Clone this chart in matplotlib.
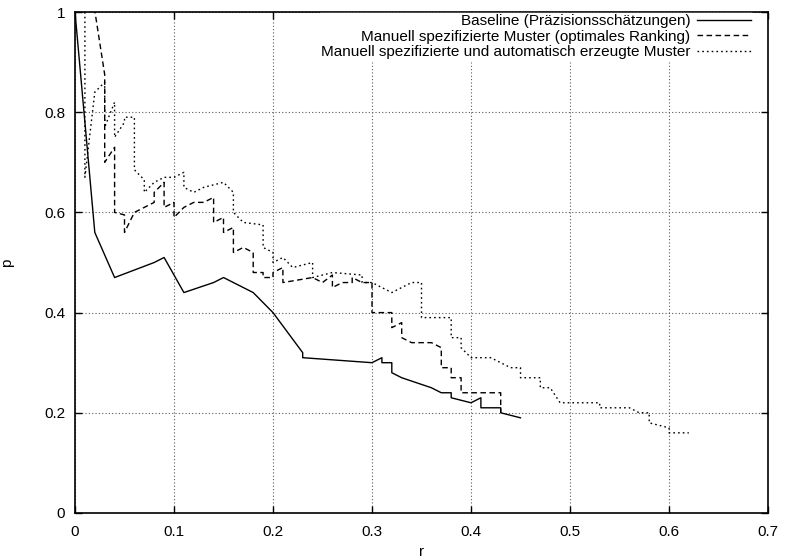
import matplotlib
matplotlib.use('Agg')
import matplotlib.pyplot as plt

plt.rcParams['font.family'] = ['Liberation Sans', 'DejaVu Sans']
plt.rcParams['font.size'] = 11

# recall r / precision p
base_r = [0, 0.02, 0.04, 0.08, 0.09, 0.11, 0.14, 0.15, 0.18, 0.20, 0.23, 0.23,
          0.30, 0.31, 0.31, 0.32, 0.32, 0.33, 0.36, 0.37, 0.38, 0.38, 0.40,
          0.41, 0.41, 0.43, 0.43, 0.45]
base_p = [1.0, 0.56, 0.47, 0.50, 0.51, 0.44, 0.46, 0.47, 0.44, 0.40, 0.32, 0.31,
          0.30, 0.31, 0.30, 0.30, 0.28, 0.27, 0.25, 0.24, 0.24, 0.23, 0.22,
          0.23, 0.21, 0.21, 0.20, 0.19]

man_r = [0.01, 0.03, 0.03, 0.04, 0.04, 0.05, 0.05, 0.06, 0.08, 0.08, 0.09, 0.09,
         0.10, 0.10, 0.11, 0.12, 0.13, 0.14, 0.14, 0.15, 0.15, 0.16, 0.16, 0.17,
         0.18, 0.18, 0.19, 0.19, 0.20, 0.20, 0.21, 0.21, 0.24, 0.25, 0.26, 0.26,
         0.27, 0.28, 0.28, 0.29, 0.30, 0.30, 0.32, 0.32, 0.33, 0.33, 0.34, 0.36,
         0.37, 0.37, 0.38, 0.38, 0.39, 0.39, 0.43, 0.43]
man_p = [1.13, 0.875, 0.70, 0.73, 0.60, 0.595, 0.56, 0.60, 0.62, 0.64, 0.66, 0.61,
         0.62, 0.59, 0.61, 0.62, 0.62, 0.63, 0.58, 0.59, 0.56, 0.57, 0.52, 0.53,
         0.52, 0.48, 0.48, 0.47, 0.47, 0.48, 0.49, 0.46, 0.47, 0.46, 0.475, 0.45,
         0.46, 0.46, 0.47, 0.46, 0.46, 0.40, 0.40, 0.37, 0.38, 0.35, 0.34, 0.34,
         0.33, 0.29, 0.29, 0.27, 0.27, 0.24, 0.24, 0.20]

auto_r = [0.01, 0.01, 0.02, 0.03, 0.03, 0.04, 0.04, 0.05, 0.05, 0.06, 0.06, 0.07,
          0.07, 0.08, 0.09, 0.10, 0.11, 0.11, 0.12, 0.13, 0.14, 0.15, 0.16, 0.16,
          0.17, 0.19, 0.19, 0.20, 0.20, 0.21, 0.22, 0.24, 0.24, 0.26, 0.29, 0.29,
          0.30, 0.32, 0.34, 0.35, 0.35, 0.38, 0.38, 0.39, 0.39, 0.40, 0.42, 0.44,
          0.45, 0.45, 0.47, 0.47, 0.48, 0.49, 0.53, 0.53, 0.56, 0.57, 0.58, 0.58,
          0.60, 0.60, 0.62]
auto_p = [1.0, 0.67, 0.84, 0.86, 0.77, 0.82, 0.75, 0.78, 0.79, 0.79, 0.685, 0.665,
          0.64, 0.66, 0.67, 0.67, 0.68, 0.65, 0.64, 0.65, 0.655, 0.66, 0.64, 0.60,
          0.58, 0.575, 0.53, 0.52, 0.50, 0.51, 0.49, 0.50, 0.47, 0.48, 0.475, 0.46,
          0.46, 0.44, 0.46, 0.46, 0.39, 0.39, 0.35, 0.35, 0.33, 0.31, 0.31, 0.29,
          0.29, 0.27, 0.27, 0.25, 0.25, 0.22, 0.22, 0.21, 0.21, 0.20, 0.20, 0.18,
          0.17, 0.16, 0.16]

labels = ['Baseline (Präzisionsschätzungen)',
          'Manuell spezifizierte Muster (optimales Ranking)',
          'Manuell spezifizierte und automatisch erzeugte Muster']

fig = plt.figure(figsize=(7.88, 5.6), dpi=100)
ax = fig.add_axes([75/788, 47/560, 693/788, 501/560])

ax.plot(base_r, base_p, color='black', lw=1.0, ls='-', label=labels[0])
ax.plot(man_r, man_p, color='black', lw=1.0, ls=(0, (4, 2.5)), label=labels[1])
ax.plot(auto_r, auto_p, color='black', lw=1.0, ls=(0, (1.2, 2.2)), label=labels[2])

ax.set_xlim(0, 0.7)
ax.set_ylim(0, 1)
ax.set_xticks([0, 0.1, 0.2, 0.3, 0.4, 0.5, 0.6, 0.7])
ax.set_xticklabels(['0', '0.1', '0.2', '0.3', '0.4', '0.5', '0.6', '0.7'])
ax.set_yticks([0, 0.2, 0.4, 0.6, 0.8, 1])
ax.set_yticklabels(['0', '0.2', '0.4', '0.6', '0.8', '1'])
ax.tick_params(direction='in', length=5, width=1, top=True, right=True, pad=7)
ax.tick_params(axis='x', pad=9)
ax.grid(True, color='0.35', ls=(0, (1, 2)), lw=0.8)
for s in ax.spines.values():
    s.set_linewidth(1.2)

ax.set_xlabel('r', labelpad=4)
ax.set_ylabel('p', labelpad=22)

leg = ax.legend(loc='upper right', bbox_to_anchor=(1 - 11/693, 1 + 4/501),
                markerfirst=False, frameon=True, fancybox=False,
                edgecolor='white', facecolor='white', framealpha=1,
                handlelength=3.5, handletextpad=0.45, labelspacing=0.1,
                borderpad=0.1, borderaxespad=0.3)

plt.savefig('out.png', dpi=100)
